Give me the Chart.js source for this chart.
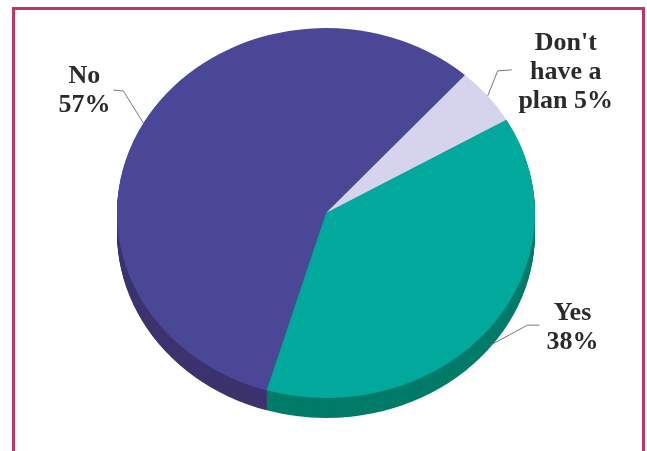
<!DOCTYPE html>
<html>
<head>
<meta charset="utf-8">
<script src="https://cdn.jsdelivr.net/npm/chart.js@4/dist/chart.umd.min.js"></script>
<style>
  html, body { margin: 0; padding: 0; background: #fff; overflow: hidden; }
  #wrap { position: relative; width: 647px; height: 451px; }
  #frame {
    position: absolute; left: 12px; top: 7px; width: 633px; height: 470px;
    box-sizing: border-box; border: 3px solid #c13560;
  }
  canvas { position: absolute; left: 0; top: 0; }
</style>
</head>
<body>
<div id="wrap">
  <div id="frame"></div>
  <canvas id="pieChart" width="647" height="451"></canvas>
</div>
<script>
// data
const categories = ['No', "Don't have a plan", 'Yes'];
const shares = [57, 5, 38];
const labelLines = [['No', '57%'], ["Don't", 'have a', 'plan 5%'], ['Yes', '38%']];

const topColors = ['#4a4896', '#d6d4ec', '#00a99c'];
const sideColors = ['#3c336e', '#a9a6c8', '#007b69'];

const TILT = 0.885;   // vertical squash of the pie
const DEPTH = 20;     // thickness of the pie edge in px

// leader elbow, stub end and text centre, relative to the anchor on the rim
const labelLayout = [
  { elbow: [-20, -32], stub: [-30, -33], text: [-59, -32] },
  { elbow: [10, -25], stub: [24, -26], text: [78, -24] },
  { elbow: [37, -20], stub: [49, -20], text: [82, -17] }
];

const tiltPlugin = {
  id: 'tilt',
  beforeDatasetsDraw(chart) {
    const ctx = chart.ctx;
    const meta = chart.getDatasetMeta(0);
    const cx = meta.data[0].x, cy = meta.data[0].y;
    ctx.save();
    ctx.translate(cx, cy);
    ctx.scale(1, TILT);
    ctx.translate(-cx, -cy);
    // pie edge, stacked from the bottom up
    for (let d = DEPTH; d >= 1; d--) {
      meta.data.forEach((arc, i) => {
        const oy = arc.y + d / TILT;
        ctx.beginPath();
        ctx.moveTo(arc.x, oy);
        ctx.arc(arc.x, oy, arc.outerRadius, arc.startAngle, arc.endAngle);
        ctx.closePath();
        ctx.fillStyle = sideColors[i];
        ctx.fill();
      });
    }
  },
  afterDatasetsDraw(chart) {
    const ctx = chart.ctx;
    ctx.restore();
    const meta = chart.getDatasetMeta(0);
    ctx.save();
    meta.data.forEach((arc, i) => {
      const mid = (arc.startAngle + arc.endAngle) / 2;
      let ax = arc.x + arc.outerRadius * Math.cos(mid);
      let ay = arc.y + arc.outerRadius * Math.sin(mid) * TILT;
      if (Math.sin(mid) > 0) ay += DEPTH * 0.9;
      const lay = labelLayout[i];
      ctx.beginPath();
      ctx.moveTo(ax, ay);
      ctx.lineTo(ax + lay.elbow[0], ay + lay.elbow[1]);
      ctx.lineTo(ax + lay.stub[0], ay + lay.stub[1]);
      ctx.strokeStyle = '#777';
      ctx.lineWidth = 1;
      ctx.stroke();

      const lines = labelLines[i];
      const lh = 29;
      const tx = ax + lay.text[0];
      const ty = ay + lay.text[1] - (lines.length - 1) * lh / 2;
      ctx.font = 'bold 26px "Liberation Serif", "Times New Roman", serif';
      ctx.fillStyle = '#2b2b2b';
      ctx.textAlign = 'center';
      ctx.textBaseline = 'middle';
      lines.forEach((t, k) => ctx.fillText(t, tx, ty + k * lh));
    });
    ctx.restore();
  }
};

new Chart(document.getElementById('pieChart'), {
  type: 'pie',
  data: {
    labels: categories,
    datasets: [{
      data: shares,
      backgroundColor: topColors,
      borderWidth: 0,
      hoverOffset: 0
    }]
  },
  options: {
    responsive: false,
    animation: false,
    rotation: 196.5,
    layout: { padding: { left: 117, right: 112, top: 4, bottom: 29 } },
    plugins: {
      legend: { display: false },
      tooltip: { enabled: false }
    }
  },
  plugins: [tiltPlugin]
});
</script>
</body>
</html>
